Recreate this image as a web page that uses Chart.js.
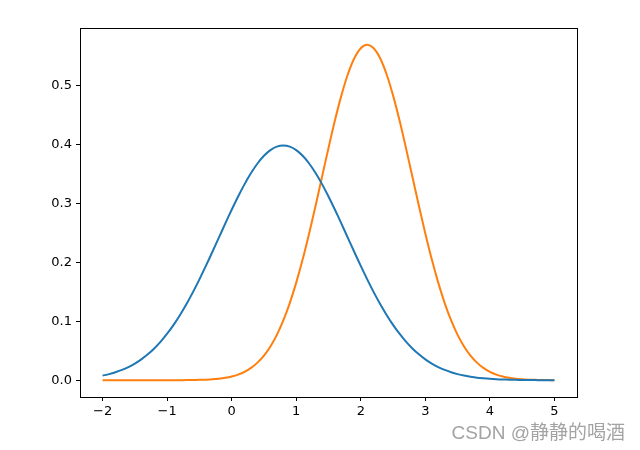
<!DOCTYPE html>
<html>
<head>
<meta charset="utf-8">
<script src="https://cdn.jsdelivr.net/npm/chart.js@4/dist/chart.umd.min.js"></script>
<style>
    html, body { margin: 0; padding: 0; background: #fff; }
    #wrap { position: relative; width: 640px; height: 450px; }
    #watermark {
        position: absolute; right: 15px; top: 417px;
        font-family: "Liberation Sans", "Noto Sans CJK SC", sans-serif;
        font-size: 19px; color: #a3a3a3; white-space: nowrap;
    }
</style>
</head>
<body>
<div id="wrap">
    <canvas id="chart" width="640" height="450"></canvas>
    <div id="watermark">CSDN @静静的喝酒</div>
</div>
<script>
// x samples, step 0.1 from -2 to 5
const xValues = [
    -2.0, -1.9, -1.8, -1.7, -1.6, -1.5, -1.4, -1.3, -1.2, -1.1,
    -1.0, -0.9, -0.8, -0.7, -0.6, -0.5, -0.4, -0.3, -0.2, -0.1,
    0.0, 0.1, 0.2, 0.3, 0.4, 0.5, 0.6, 0.7, 0.8, 0.9,
    1.0, 1.1, 1.2, 1.3, 1.4, 1.5, 1.6, 1.7, 1.8, 1.9,
    2.0, 2.1, 2.2, 2.3, 2.4, 2.5, 2.6, 2.7, 2.8, 2.9,
    3.0, 3.1, 3.2, 3.3, 3.4, 3.5, 3.6, 3.7, 3.8, 3.9,
    4.0, 4.1, 4.2, 4.3, 4.4, 4.5, 4.6, 4.7, 4.8, 4.9,
    5.0
];

const blueValues = [
    0.0079, 0.0104, 0.0136, 0.0175, 0.0224, 0.0283, 0.0355, 0.0440, 0.0540, 0.0656,
    0.0790, 0.0941, 0.1109, 0.1295, 0.1497, 0.1714, 0.1942, 0.2179, 0.2420, 0.2661,
    0.2897, 0.3123, 0.3332, 0.3521, 0.3683, 0.3814, 0.3910, 0.3970, 0.3989, 0.3970,
    0.3910, 0.3814, 0.3683, 0.3521, 0.3332, 0.3123, 0.2897, 0.2661, 0.2420, 0.2179,
    0.1942, 0.1714, 0.1497, 0.1295, 0.1109, 0.0941, 0.0790, 0.0656, 0.0540, 0.0440,
    0.0355, 0.0283, 0.0224, 0.0175, 0.0136, 0.0104, 0.0079, 0.0060, 0.0044, 0.0033,
    0.0024, 0.0017, 0.0012, 0.0009, 0.0006, 0.0004, 0.0003, 0.0002, 0.0001, 0.0001,
    0.0001
];

const orangeValues = [
    0.0000, 0.0000, 0.0000, 0.0000, 0.0000, 0.0000, 0.0000, 0.0000, 0.0000, 0.0000,
    0.0000, 0.0001, 0.0001, 0.0002, 0.0003, 0.0006, 0.0010, 0.0016, 0.0026, 0.0041,
    0.0063, 0.0096, 0.0143, 0.0209, 0.0299, 0.0418, 0.0574, 0.0771, 0.1016, 0.1311,
    0.1658, 0.2054, 0.2494, 0.2966, 0.3457, 0.3947, 0.4416, 0.4840, 0.5199, 0.5471,
    0.5641, 0.5699, 0.5641, 0.5471, 0.5199, 0.4840, 0.4416, 0.3947, 0.3457, 0.2966,
    0.2494, 0.2054, 0.1658, 0.1311, 0.1016, 0.0771, 0.0574, 0.0418, 0.0299, 0.0209,
    0.0143, 0.0096, 0.0063, 0.0041, 0.0026, 0.0016, 0.0010, 0.0006, 0.0003, 0.0002,
    0.0001
];

const xTicks = [-2, -1, 0, 1, 2, 3, 4, 5];
const yTicks = [0.0, 0.1, 0.2, 0.3, 0.4, 0.5];

const toPoints = ys => xValues.map((x, i) => ({ x: x, y: ys[i] }));

// draw the full box around the plot, like matplotlib spines
const frame = {
    id: 'frame',
    afterDraw(chart) {
        const { ctx, chartArea: a } = chart;
        ctx.save();
        ctx.strokeStyle = '#000';
        ctx.lineWidth = 1;
        ctx.strokeRect(Math.round(a.left) + 0.5, Math.round(a.top) + 0.5,
            Math.round(a.right - a.left), Math.round(a.bottom - a.top));
        ctx.restore();
    }
};

const tickFont = { family: 'DejaVu Sans', size: 13 };

new Chart(document.getElementById('chart').getContext('2d'), {
    type: 'scatter',
    data: {
        datasets: [{
            data: toPoints(blueValues),
            showLine: true,
            borderColor: '#1f77b4',
            borderWidth: 2,
            pointRadius: 0,
            tension: 0.3
        }, {
            data: toPoints(orangeValues),
            showLine: true,
            borderColor: '#ff7f0e',
            borderWidth: 2,
            pointRadius: 0,
            tension: 0.3
        }]
    },
    options: {
        responsive: false,
        animation: false,
        layout: { padding: { left: 0, top: 28, right: 63, bottom: 0 } },
        plugins: {
            legend: { display: false },
            tooltip: { enabled: false }
        },
        scales: {
            x: {
                type: 'linear',
                min: -2.35,
                max: 5.35,
                afterBuildTicks: s => { s.ticks = xTicks.map(v => ({ value: v })); },
                afterFit: s => { s.height = 53; },
                grid: { drawOnChartArea: false, tickLength: 4, tickColor: '#000' },
                border: { display: false },
                ticks: {
                    color: '#000', font: tickFont, padding: 3, maxRotation: 0,
                    callback: v => String(v).replace('-', '\u2212')
                }
            },
            y: {
                min: -0.0285,
                max: 0.5985,
                afterBuildTicks: s => { s.ticks = yTicks.map(v => ({ value: v })); },
                afterFit: s => { s.width = 80; },
                grid: { drawOnChartArea: false, tickLength: 4, tickColor: '#000' },
                border: { display: false },
                ticks: {
                    color: '#000', font: tickFont, padding: 4,
                    callback: v => v.toFixed(1)
                }
            }
        }
    },
    plugins: [frame]
});
</script>
</body>
</html>
